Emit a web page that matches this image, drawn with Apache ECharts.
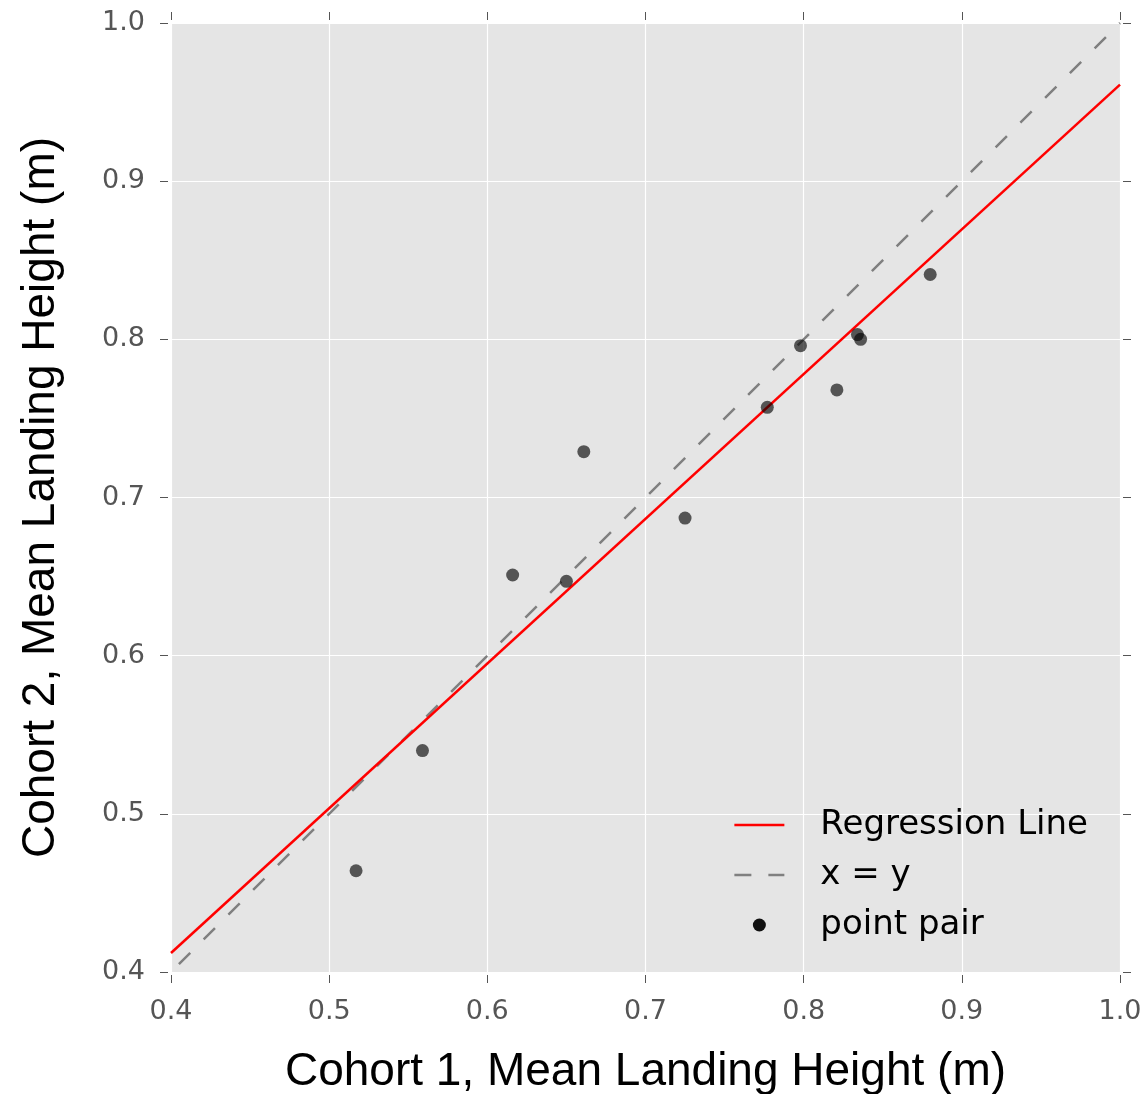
<!DOCTYPE html>
<html>
<head>
<meta charset="utf-8">
<script src="https://cdn.jsdelivr.net/npm/echarts@6/dist/echarts.min.js"></script>
<style>
html,body{margin:0;padding:0;background:#fff;}
#chart{width:1147px;height:1094px;}
</style>
</head>
<body>
<div id="chart"></div>
<script>
// Data
var cohort1 = [0.517, 0.559, 0.616, 0.650, 0.661, 0.725, 0.777, 0.798, 0.821, 0.834, 0.836, 0.880];
var cohort2 = [0.464, 0.540, 0.651, 0.647, 0.729, 0.687, 0.757, 0.796, 0.768, 0.803, 0.800, 0.841];
var regressionX = [0.4, 1.0];
var regressionY = [0.412, 0.961];
var identityXY = [0.405, 1.0];
var axisMin = 0.4, axisMax = 1.0, axisStep = 0.1;
var seriesNames = ['Regression Line', 'x = y', 'point pair'];
var xTitle = 'Cohort 1, Mean Landing Height (m)';
var yTitle = 'Cohort 2, Mean Landing Height (m)';

var pairs = cohort1.map(function (x, i) { return [x, cohort2[i]]; });
var regData = regressionX.map(function (x, i) { return [x, regressionY[i]]; });
var idData = identityXY.map(function (v) { return [v, v]; });

var tickColor = '#555555';
var labelFont = 'DejaVu Sans';
function fmt(v) { return v.toFixed(1); }

function mainAxis(pos, name, nameGap, rotate) {
  return {
    type: 'value', position: pos, min: axisMin, max: axisMax, interval: axisStep,
    offset: 3,
    name: name, nameLocation: 'middle', nameGap: nameGap, nameRotate: rotate,
    nameTextStyle: { fontFamily: 'Liberation Sans', fontSize: 46, color: '#000' },
    axisLine: { show: false },
    axisTick: { show: true, inside: false, length: 8, lineStyle: { color: tickColor, width: 1 } },
    axisLabel: { show: true, margin: 23, formatter: fmt, fontFamily: labelFont, fontSize: 27, color: tickColor },
    splitLine: { show: true, lineStyle: { color: '#ffffff', width: 1.2 } }
  };
}
function sideAxis(pos) {
  return {
    type: 'value', position: pos, min: axisMin, max: axisMax, interval: axisStep,
    offset: 3,
    axisLine: { show: false },
    axisTick: { show: true, inside: false, length: 8, lineStyle: { color: tickColor, width: 1 } },
    axisLabel: { show: false },
    splitLine: { show: false }
  };
}

var chart = echarts.init(document.getElementById('chart'), null, { renderer: 'canvas' });
chart.setOption({
  animation: false,
  backgroundColor: '#ffffff',
  grid: {
    left: 171, top: 23, width: 949, height: 949, show: true,
    backgroundColor: '#e5e5e5', borderWidth: 0,
    containLabel: false, outerBoundsMode: 'none'
  },
  xAxis: [mainAxis('bottom', xTitle, 74, 0), sideAxis('top')],
  yAxis: [mainAxis('left', yTitle, 104, 90), sideAxis('right')],
  legend: {
    orient: 'vertical', right: 54, top: 803,
    itemWidth: 50, itemHeight: 13, itemGap: 16,
    textStyle: { fontFamily: labelFont, fontSize: 34, color: '#000', padding: [0, 0, 0, 31], lineHeight: 34 },
    data: [
      { name: seriesNames[0], itemStyle: { opacity: 0 }, lineStyle: { width: 2.5, color: '#ff0000' } },
      { name: seriesNames[1], itemStyle: { opacity: 0 }, lineStyle: { width: 2.5, color: '#808080', type: [17, 17] } },
      { name: seriesNames[2], icon: 'circle', itemStyle: { color: '#111111', opacity: 1 } }
    ]
  },
  series: [
    {
      name: seriesNames[0], type: 'line', data: regData, symbol: 'none', z: 3,
      lineStyle: { color: '#ff0000', width: 2.5 }, itemStyle: { color: '#ff0000' }
    },
    {
      name: seriesNames[1], type: 'line', data: idData, symbol: 'none', z: 2,
      lineStyle: { color: '#808080', width: 2.5, type: [16, 19] }, itemStyle: { color: '#808080' }
    },
    {
      name: seriesNames[2], type: 'scatter', data: pairs, symbol: 'circle', symbolSize: 13, z: 4,
      itemStyle: { color: '#000000', opacity: 0.63 }
    }
  ]
});
</script>
</body>
</html>
